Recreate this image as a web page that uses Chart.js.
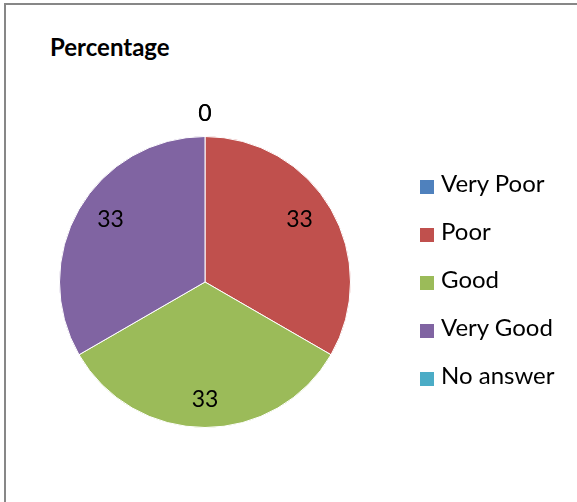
<!DOCTYPE html>
<html>
<head>
<meta charset="utf-8">
<script src="https://cdn.jsdelivr.net/npm/chart.js@4/dist/chart.umd.min.js"></script>
<style>
    html, body { margin: 0; padding: 0; background: #fff; overflow: hidden; }
    body { width: 577px; height: 502px; position: relative; font-family: Lato, "Open Sans", sans-serif; }
    #frame { position: absolute; left: 4px; top: 3px; width: 640px; height: 560px; border: 2px solid #878787; box-sizing: border-box; }
    #title { position: absolute; left: 50px; top: 32px; font-size: 24px; font-weight: bold; color: #000; }
    #chartBox { position: absolute; left: 0; top: 0; width: 577px; height: 502px; }
    #legend { position: absolute; left: 420px; top: 170px; margin: 0; padding: 0; list-style: none; }
    #legend li { height: 48px; line-height: 26px; display: flex; align-items: flex-start; font-size: 24px; color: #000; }
    #legend span.box { display: inline-block; width: 14px; height: 14px; margin: 10px 7px 0 0; }
</style>
</head>
<body>
<div id="frame"></div>
<div id="title">Percentage</div>
<div id="chartBox"><canvas id="pie"></canvas></div>
<ul id="legend"></ul>
<script>
    'use strict';

    var categories = ['Very Poor', 'Poor', 'Good', 'Very Good', 'No answer'];
    var percentages = [0, 33, 33, 33, 0];
    var sliceColors = ['#4F81BD', '#C0504D', '#9BBB59', '#8064A2', '#4BACC6'];

    // value labels: inside for real slices, outside for the empty ones
    var sliceLabels = {
        id: 'sliceLabels',
        afterDatasetsDraw: function (chart) {
            var ctx = chart.ctx;
            var meta = chart.getDatasetMeta(0);
            ctx.save();
            ctx.font = '23px Lato, "Open Sans", sans-serif';
            ctx.fillStyle = '#000';
            ctx.textAlign = 'center';
            ctx.textBaseline = 'middle';
            meta.data.forEach(function (arc, i) {
                var p = arc.getProps(['x', 'y', 'startAngle', 'endAngle', 'outerRadius'], true);
                var mid = (p.startAngle + p.endAngle) / 2;
                var lx, ly;
                if (percentages[i] > 0) {
                    var r = p.outerRadius * 0.75;
                    lx = p.x + Math.cos(mid) * r;
                    ly = p.y + Math.sin(mid) * r + (Math.sin(mid) < 0 ? -8 : 8);
                } else {
                    lx = p.x + Math.cos(mid) * p.outerRadius * 1.155;
                    ly = p.y + Math.sin(mid) * p.outerRadius * 1.155;
                }
                ctx.fillText(String(percentages[i]), lx, ly);
            });
            ctx.restore();
        }
    };

    var chart = new Chart(document.getElementById('pie'), {
        type: 'pie',
        data: {
            labels: categories,
            datasets: [{
                data: percentages,
                backgroundColor: sliceColors,
                borderColor: '#ffffff',
                borderWidth: 1
            }]
        },
        options: {
            responsive: true,
            maintainAspectRatio: false,
            animation: false,
            layout: { padding: { left: 59, right: 226, top: 136, bottom: 74 } },
            plugins: {
                legend: { display: false },
                tooltip: { enabled: false }
            }
        },
        plugins: [sliceLabels]
    });

    var legendEl = document.getElementById('legend');
    categories.forEach(function (name, i) {
        var li = document.createElement('li');
        var box = document.createElement('span');
        box.className = 'box';
        box.style.background = sliceColors[i];
        li.appendChild(box);
        li.appendChild(document.createTextNode(name));
        legendEl.appendChild(li);
    });
</script>
</body>
</html>
